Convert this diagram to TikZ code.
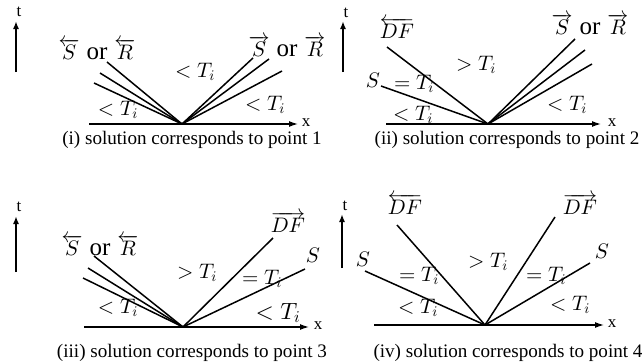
\documentclass[tikz,border=0pt]{standalone}
\usepackage{fontspec}
\setmainfont{Liberation Serif}
\DeclareFontShape{OML}{cmm}{m}{it}{<->cmmi10}{}
\DeclareFontShape{OMS}{cmsy}{m}{n}{<->cmsy10}{}
\DeclareFontShape{OT1}{cmr}{m}{n}{<->cmr10}{}
\usetikzlibrary{arrows.meta}
\newcommand{\ortext}{\hspace{7pt}{\fontsize{25}{28}\selectfont or}\hspace{7pt}}
\begin{document}
\begin{tikzpicture}[x=1pt,y=-1pt,
  wave/.style={line width=1.5pt},
  axis/.style={line width=1.3pt,-{Latex[length=9pt,width=6pt]}},
  tarrow/.style={line width=2.2pt,-{Latex[length=8pt,width=6pt]}},
  lab/.style={font=\fontsize{21}{24}\selectfont,inner sep=0pt},
  biglab/.style={font=\fontsize{23.5}{27}\selectfont,inner sep=0pt},
  axlab/.style={font=\fontsize{17}{20}\selectfont,inner sep=0pt},
  captext/.style={font=\fontsize{19.1}{22}\selectfont,inner sep=0pt}]
\useasboundingbox (0,0) rectangle (643,362);

% ---------------- panel (i)
\coordinate (ta1) at (16,72); \coordinate (tb1) at (16,21);
\draw[tarrow] (ta1) -- (tb1);
\node[axlab] (tl1) at (19,12) {t};
\coordinate (o1) at (182,124);
\coordinate (xa1) at (89,124); \coordinate (xb1) at (298,124);
\draw[axis] (xa1) -- (xb1);
\node[axlab] (xl1) at (306,123) {x};
\coordinate (l1a) at (107,62); \coordinate (l1b) at (100,73); \coordinate (l1c) at (94,83);
\coordinate (r1a) at (253,58); \coordinate (r1b) at (269,59); \coordinate (r1c) at (282,71);
\foreach \e in {l1a,l1b,l1c,r1a,r1b,r1c} \draw[wave] (o1) -- (\e);
\node[lab] (n1a) at (97,49) {$\overleftarrow{S}$\ortext$\overleftarrow{R}$};
\node[lab] (n1b) at (287,46) {$\overrightarrow{S}$\ortext$\overrightarrow{R}$};
\node[lab] (n1c) at (195,72) {$<T_i$};
\node[lab] (n1d) at (118,110) {$<T_i$};
\node[lab] (n1e) at (265,105) {$<T_i$};
\node[captext] (c1) at (192,140) {(i) solution corresponds to point 1};

% ---------------- panel (ii)
\coordinate (ta2) at (343,72); \coordinate (tb2) at (343,21);
\draw[tarrow] (ta2) -- (tb2);
\node[axlab] (tl2) at (346,13) {t};
\coordinate (o2) at (488,124);
\coordinate (xa2) at (386,124); \coordinate (xb2) at (601,124);
\draw[axis] (xa2) -- (xb2);
\node[axlab] (xl2) at (612,123) {x};
\coordinate (l2a) at (387,47); \coordinate (l2b) at (381,86);
\coordinate (r2a) at (575,39); \coordinate (r2b) at (585,50); \coordinate (r2c) at (592,64);
\foreach \e in {l2a,l2b,r2a,r2b,r2c} \draw[wave] (o2) -- (\e);
\node[lab] (n2a) at (397,28) {$\overleftarrow{DF}$};
\node[lab] (n2b) at (373,80) {$S$};
\node[lab] (n2c) at (414,84) {$=T_i$};
\node[lab] (n2d) at (476,65) {$>T_i$};
\node[lab] (n2e) at (413,115) {$<T_i$};
\node[lab] (n2f) at (567,105) {$<T_i$};
\node[lab] (n2g) at (590,24) {$\overrightarrow{S}$\ortext$\overrightarrow{R}$};
\node[captext] (c2) at (507,140) {(ii) solution corresponds to point 2};

% ---------------- panel (iii)
\coordinate (ta3) at (16,272); \coordinate (tb3) at (16,216);
\draw[tarrow] (ta3) -- (tb3);
\node[axlab] (tl3) at (19,207) {t};
\coordinate (o3) at (183,327);
\coordinate (xa3) at (84,327); \coordinate (xb3) at (309,327);
\draw[axis] (xa3) -- (xb3);
\node[axlab] (xl3) at (318,326) {x};
\coordinate (l3a) at (94,256); \coordinate (l3b) at (88,268); \coordinate (l3c) at (83,278);
\coordinate (r3a) at (273,238); \coordinate (r3b) at (305,269);
\foreach \e in {l3a,l3b,l3c,r3a,r3b} \draw[wave] (o3) -- (\e);
\node[lab] (n3a) at (100,245) {$\overleftarrow{S}$\ortext$\overleftarrow{R}$};
\node[lab] (n3b) at (197,273) {$>T_i$};
\node[lab] (n3c) at (262,279) {$=T_i$};
\node[lab] (n3d) at (118,308) {$<T_i$};
\node[biglab] (n3e) at (278,313) {$<T_i$};
\node[lab] (n3f) at (288,222) {$\overrightarrow{DF}$};
\node[lab] (n3g) at (313,255) {$S$};
\node[captext] (c3) at (192,353) {(iii) solution corresponds to point 3};

% ---------------- panel (iv)
\coordinate (ta4) at (342,268); \coordinate (tb4) at (342,214);
\draw[tarrow] (ta4) -- (tb4);
\node[axlab] (tl4) at (345,206) {t};
\coordinate (o4) at (485,325);
\coordinate (xa4) at (374,325); \coordinate (xb4) at (604,325);
\draw[axis] (xa4) -- (xb4);
\node[axlab] (xl4) at (612,324) {x};
\coordinate (l4a) at (397,225); \coordinate (l4b) at (365,271);
\coordinate (r4a) at (555,217); \coordinate (r4b) at (590,263);
\foreach \e in {l4a,l4b,r4a,r4b} \draw[wave] (o4) -- (\e);
\node[lab] (n4a) at (405,204) {$\overleftarrow{DF}$};
\node[lab] (n4b) at (363,259) {$S$};
\node[lab] (n4c) at (419,276) {$=T_i$};
\node[lab] (n4d) at (488,262) {$>T_i$};
\node[lab] (n4e) at (546,276) {$=T_i$};
\node[lab] (n4f) at (418,308) {$<T_i$};
\node[lab] (n4g) at (570,305) {$<T_i$};
\node[lab] (n4h) at (580,204) {$\overrightarrow{DF}$};
\node[lab] (n4i) at (602,251) {$S$};
\node[captext] (c4) at (508,353) {(iv) solution corresponds to point 4};
\end{tikzpicture}
\end{document}
